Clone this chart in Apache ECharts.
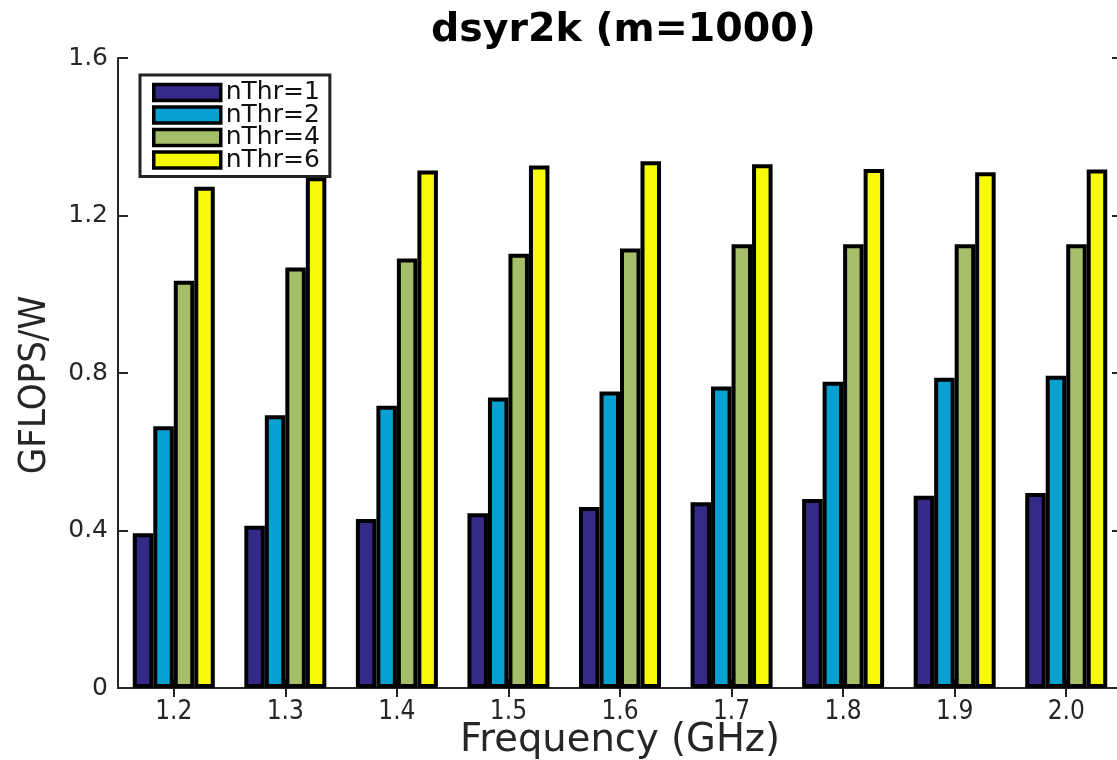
<!DOCTYPE html>
<html>
<head>
<meta charset="utf-8">
<script src="https://cdn.jsdelivr.net/npm/echarts@6/dist/echarts.min.js"></script>
<style>html,body{margin:0;padding:0;background:#fff;}#c{width:1117px;height:760px;}</style>
</head>
<body>
<div id="c"></div>
<script>
const categories = ['1.2','1.3','1.4','1.5','1.6','1.7','1.8','1.9','2.0'];
const seriesNames = ['nThr=1','nThr=2','nThr=4','nThr=6'];
const nThr1 = [0.393,0.412,0.429,0.444,0.460,0.472,0.480,0.488,0.495];
const nThr2 = [0.665,0.693,0.717,0.738,0.753,0.766,0.778,0.788,0.793];
const nThr4 = [1.034,1.068,1.091,1.103,1.116,1.127,1.127,1.127,1.127];
const nThr6 = [1.273,1.297,1.314,1.327,1.338,1.330,1.318,1.310,1.317];
const yTicks = [0,0.4,0.8,1.2,1.6];
const colors = ['#352A87','#089FD1','#A5BE6A','#F8F80A'];

const narrow = "'Liberation Sans Narrow','DejaVu Sans Condensed',sans-serif";
const wide = "'DejaVu Sans',sans-serif";
const axisCol = '#262626';

const chart = echarts.init(document.getElementById('c'), null, {renderer:'canvas'});
const data = [nThr1,nThr2,nThr4,nThr6];
chart.setOption({
  animation:false,
  backgroundColor:'#fff',
  title:{
    text:'dsyr2k (m=1000)',
    left:426, top:6,
    textStyle:{fontFamily:wide,fontWeight:'bold',fontSize:39.5,color:'#000'}
  },
  legend:{
    orient:'vertical',
    left:140, top:75,
    data:seriesNames,
    icon:'rect',
    itemWidth:67, itemHeight:16, itemGap:-2.5,
    itemStyle:{borderColor:'#000',borderWidth:3.5},
    padding:[5,10,4,12],
    borderColor:'#222', borderWidth:3,
    backgroundColor:'#fff',
    textStyle:{fontFamily:wide,fontSize:25,color:'#111'}
  },
  grid:{left:118, right:-5, top:58, bottom:72, containLabel:false, outerBoundsMode:'none'},
  xAxis:[{
    type:'category', data:categories, position:'bottom',
    name:'Frequency (GHz)', nameLocation:'middle', nameGap:33, nameMoveOverlap:false,
    nameTextStyle:{fontFamily:wide,fontSize:38.5,color:axisCol},
    axisLine:{show:true,lineStyle:{color:axisCol,width:2}},
    axisTick:{show:true,inside:true,alignWithLabel:true,length:9,lineStyle:{color:axisCol,width:2}},
    axisLabel:{fontFamily:narrow,fontSize:26,color:axisCol,margin:11},
    splitLine:{show:false}
  },{
    type:'category', data:categories, position:'top',
    axisLine:{show:true,lineStyle:{color:axisCol,width:2}},
    axisTick:{show:true,inside:true,alignWithLabel:true,length:9,lineStyle:{color:axisCol,width:2}},
    axisLabel:{show:false}, splitLine:{show:false}
  }],
  yAxis:[{
    type:'value', min:0, max:1.6, interval:0.4, position:'left',
    name:'GFLOPS/W', nameLocation:'middle', nameGap:64, nameMoveOverlap:false,
    nameTextStyle:{fontFamily:narrow,fontSize:38,color:axisCol,padding:[0,24,0,0]},
    axisLine:{show:true,lineStyle:{color:axisCol,width:2}},
    axisTick:{show:true,inside:true,length:10,lineStyle:{color:axisCol,width:2}},
    axisLabel:{fontFamily:wide,fontSize:25,color:axisCol,margin:10,
      formatter:function(v){return yTicks.indexOf(Math.round(v*10)/10)>=0 ? (v===0?'0':v.toFixed(1)) : '';}},
    splitLine:{show:false}
  },{
    type:'value', min:0, max:1.6, interval:0.4, position:'right',
    axisLine:{show:true,lineStyle:{color:axisCol,width:2}},
    axisTick:{show:true,inside:true,length:10,lineStyle:{color:axisCol,width:2}},
    axisLabel:{show:false}, splitLine:{show:false}
  }],
  series: seriesNames.map(function(n,i){
    return {
      name:n, type:'bar', xAxisIndex:0, yAxisIndex:0,
      data:data[i], barWidth:20.5, barGap:'0%',
      itemStyle:{color:colors[i], borderColor:'#000', borderWidth:4}
    };
  })
});
</script>
</body>
</html>
